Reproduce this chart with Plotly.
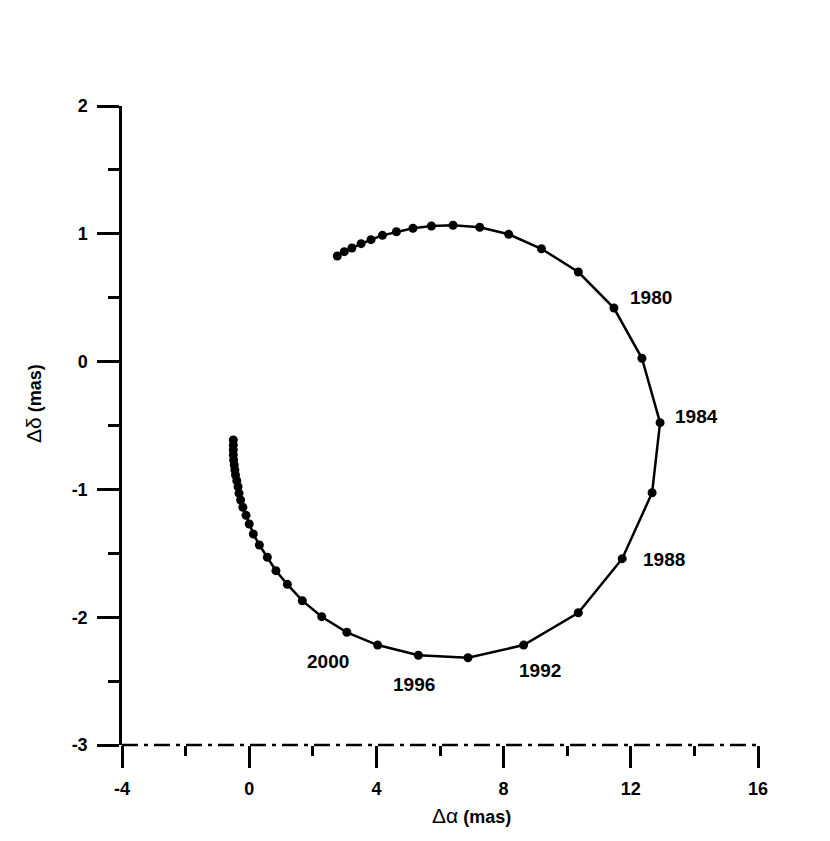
import plotly.graph_objects as go

# Epochs (2-year steps) and offsets
years = list(range(1952, 2046, 2))
d_alpha = [2.77, 2.99, 3.23, 3.52, 3.83, 4.19, 4.63, 5.15, 5.73, 6.41, 7.25, 8.16, 9.19,
           10.35, 11.47, 12.35, 12.92, 12.67, 11.73, 10.35, 8.63, 6.88, 5.32, 4.04, 3.07,
           2.28, 1.67, 1.20, 0.84, 0.57, 0.32, 0.13, 0.00, -0.10, -0.20, -0.27,
           -0.32, -0.35, -0.39, -0.43, -0.45, -0.47, -0.49, -0.50, -0.50, -0.50, -0.50]
d_delta = [0.826, 0.860, 0.889, 0.923, 0.954, 0.988, 1.016, 1.043, 1.061, 1.067, 1.051,
           0.996, 0.883, 0.701, 0.419, 0.026, -0.478, -1.026, -1.542, -1.965, -2.218,
           -2.317, -2.298, -2.218, -2.118, -1.996, -1.871, -1.743, -1.636, -1.531, -1.435,
           -1.349, -1.271, -1.203, -1.140, -1.083, -1.031, -0.979, -0.932, -0.887, -0.848,
           -0.809, -0.770, -0.731, -0.692, -0.653, -0.613]

label_years = ["1980", "1984", "1988", "1992", "1996", "2000"]
label_x = [12.64, 14.08, 13.04, 9.15, 5.18, 2.48]
label_y = [0.50, -0.43, -1.545, -2.42, -2.53, -2.343]

x_ticks = [-4, 0, 4, 8, 12, 16]
y_ticks = [-3, -2, -1, 0, 1, 2]

FONT = "Liberation Sans, Arial, sans-serif"

fig = go.Figure()
fig.add_trace(go.Scatter(
    x=d_alpha, y=d_delta, mode="lines+markers",
    line=dict(color="black", width=2.5),
    marker=dict(color="black", size=9),
    hoverinfo="skip", showlegend=False,
))

for t, lx, ly in zip(label_years, label_x, label_y):
    fig.add_annotation(x=lx, y=ly, xref="x", yref="y", text="<b>%s</b>" % t,
                       showarrow=False, xanchor="center", yanchor="middle",
                       font=dict(family=FONT, size=19, color="black"))

# axis titles
fig.add_annotation(x=0.549, y=-0.111, xref="paper", yref="paper",
                   xanchor="center", yanchor="middle",
                   text="<span style='font-size:21px'>Δα</span> <b>(mas)</b>", showarrow=False,
                   font=dict(family=FONT, size=18, color="black"))
fig.add_annotation(x=-0.138, y=0.534, xref="paper", yref="paper",
                   xanchor="center", yanchor="middle",
                   text="<span style='font-size:21px'>Δδ</span> <b>(mas)</b>", showarrow=False,
                   textangle=-90,
                   font=dict(family=FONT, size=18, color="black"))

# dash-dot bottom axis line
fig.add_shape(type="line", xref="paper", yref="paper", x0=0, x1=1, y0=0, y1=0,
              line=dict(color="black", width=2.5, dash="16px,6px,4px,6px"))

fig.update_layout(
    width=830, height=841,
    margin=dict(l=114, r=80, t=98, b=104),
    paper_bgcolor="white", plot_bgcolor="white",
    font=dict(family=FONT, color="black"),
    xaxis=dict(range=[-4, 16], tickvals=x_ticks, automargin=False,
               ticktext=["<b>%d</b>" % v for v in x_ticks],
               showgrid=False, zeroline=False, showline=False,
               ticks="outside", ticklen=22, tickwidth=2.5, tickcolor="black",
               tickfont=dict(family=FONT, size=18, color="black"),
               ticklabelstandoff=5,
               minor=dict(tickvals=[-2, 2, 6, 10, 14], ticks="outside", ticklen=10,
                          tickwidth=2.5, tickcolor="black", showgrid=False)),
    yaxis=dict(range=[-3, 2], tickvals=y_ticks, automargin=False,
               ticktext=["<b>%d</b>" % v for v in y_ticks],
               showgrid=False, zeroline=False, showline=True, linecolor="black",
               linewidth=2.5,
               ticks="outside", ticklen=22, tickwidth=2.5, tickcolor="black",
               tickfont=dict(family=FONT, size=18, color="black"),
               ticklabelstandoff=6,
               minor=dict(tickvals=[-2.5, -1.5, -0.5, 0.5, 1.5], ticks="outside",
                          ticklen=11, tickwidth=2.5, tickcolor="black", showgrid=False)),
)

fig.write_html("out.html")
